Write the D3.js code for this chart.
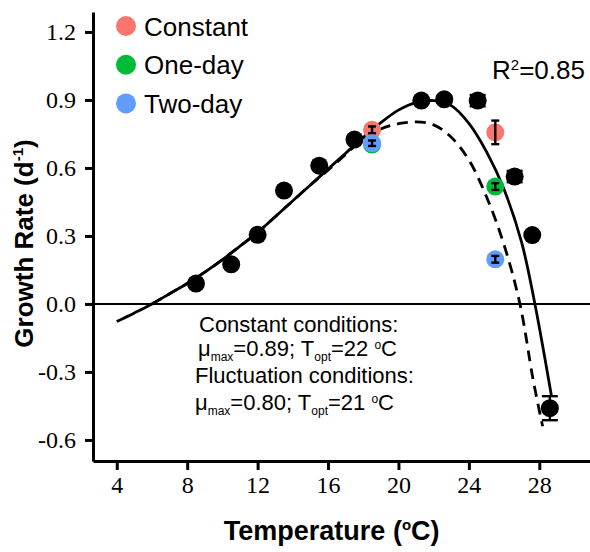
<!DOCTYPE html>
<html>
<head>
<meta charset="utf-8">
<script src="https://cdn.jsdelivr.net/npm/d3@7"></script>
<style>
  html, body { margin: 0; padding: 0; background: #fff; }
  svg { display: block; }
</style>
</head>
<body>
<svg id="chart" width="590" height="552"></svg>
<script>
// Observed growth rates at constant temperature (mean ± error)
const constTemps = [8.5, 10.5, 12, 13.5, 15.5, 17.5, 21.3, 22.6, 24.5, 26.6, 27.6, 28.6];
const constRates = [0.09, 0.175, 0.305, 0.50, 0.61, 0.725, 0.897, 0.903, 0.897, 0.562, 0.304, -0.46];
const constErrs  = [0, 0, 0, 0, 0, 0, 0.01, 0.015, 0.025, 0.025, 0, 0.053];

// Fluctuation experiments, mean temperatures
const fluctTemps = [18.5, 25.5];
const seriesNames = ["Constant", "One-day", "Two-day"];
const seriesColors = ["#F8766D", "#00BA38", "#619CFF"];
const constantRates = [0.768, 0.757];
const constantErrs  = [0.015, 0.052];
const oneDayRates   = [0.703, 0.518];
const oneDayErrs    = [0.012, 0.015];
const twoDayRates   = [0.709, 0.197];
const twoDayErrs    = [0.012, 0.015];

// Fitted thermal performance curves
const fitConstTemps = [4, 5, 6, 7, 8, 9, 10, 11, 12, 13, 14, 15, 16, 17, 18, 19, 20, 21, 22, 23, 24, 25, 26, 27, 27.75, 28.7];
const fitConstRates = [-0.078, -0.04, 0.0, 0.045, 0.09, 0.14, 0.195, 0.255, 0.315, 0.385, 0.455, 0.525, 0.595, 0.665, 0.735, 0.80, 0.855, 0.888, 0.897, 0.875, 0.797, 0.672, 0.505, 0.27, 0.0, -0.41];
const fitFluctTemps = [6, 7, 8, 9, 10, 11, 12, 13, 14, 15, 16, 17, 18, 19, 20, 21, 22, 23, 24, 25, 26, 26.9, 27.65, 28.19];
const fitFluctRates = [0.0, 0.045, 0.09, 0.14, 0.195, 0.255, 0.315, 0.385, 0.455, 0.525, 0.59, 0.66, 0.728, 0.772, 0.795, 0.803, 0.79, 0.735, 0.635, 0.473, 0.26, 0.0, -0.335, -0.54];

// Axis ticks
const xTicks = [4, 8, 12, 16, 20, 24, 28];
const yTicks = [1.2, 0.9, 0.6, 0.3, 0.0, -0.3, -0.6];
const yTickLabels = ["1.2", "0.9", "0.6", "0.3", "0.0", "-0.3", "-0.6"];

const svg = d3.select("#chart");
const plotLeft = 93, plotRight = 590, plotTop = 12, plotBottom = 461;

const x = d3.scaleLinear().domain([2.65, 30.88]).range([plotLeft, plotRight]);
const y = d3.scaleLinear().domain([-0.693, 1.288]).range([plotBottom, plotTop]);

const sans = "'Liberation Sans', Arial, Helvetica, sans-serif";
const serif = "'Liberation Serif', 'Times New Roman', serif";

// Axes
const xAxis = d3.axisBottom(x).tickValues(xTicks).tickSize(9).tickPadding(6).tickSizeOuter(0);
const yAxis = d3.axisLeft(y).tickValues(yTicks).tickSize(8).tickPadding(9).tickSizeOuter(0)
  .tickFormat((d, i) => yTickLabels[i]);

const gx = svg.append("g").attr("transform", `translate(0,${plotBottom})`).call(xAxis);
const gy = svg.append("g").attr("transform", `translate(${plotLeft},0)`).call(yAxis);
[gx, gy].forEach(g => {
  g.select(".domain").attr("stroke", "#000").attr("stroke-width", 3);
  g.selectAll(".tick line").attr("stroke", "#000").attr("stroke-width", 3);
  g.selectAll(".tick text").attr("fill", "#000").style("font-family", serif).style("font-size", "24px");
});
gx.selectAll(".tick text").attr("dy", "0.71em");

// Zero reference line
svg.append("line")
  .attr("x1", x(x.domain()[0])).attr("x2", x(x.domain()[1]))
  .attr("y1", y(0)).attr("y2", y(0))
  .attr("stroke", "#000").attr("stroke-width", 2);

// Fitted curves
const line = d3.line().x(d => x(d[0])).y(d => y(d[1])).curve(d3.curveCatmullRom.alpha(0.5));
svg.append("path")
  .datum(d3.zip(fitFluctTemps, fitFluctRates))
  .attr("d", line).attr("fill", "none")
  .attr("stroke", "#000").attr("stroke-width", 2.8).attr("stroke-dasharray", "11,7");
svg.append("path")
  .datum(d3.zip(fitConstTemps, fitConstRates))
  .attr("d", line).attr("fill", "none")
  .attr("stroke", "#000").attr("stroke-width", 2.8);

// Points with error bars
function drawSeries(temps, rates, errs, color, r, capW) {
  const g = svg.append("g");
  const data = d3.zip(temps, rates, errs);
  g.selectAll("circle").data(data).join("circle")
    .attr("cx", d => x(d[0])).attr("cy", d => y(d[1])).attr("r", r).attr("fill", color);
  const eb = g.selectAll("g.eb").data(data.filter(d => d[2] > 0)).join("g").attr("class", "eb")
    .attr("stroke", "#000").attr("stroke-width", 2.4);
  eb.append("line").attr("x1", d => x(d[0])).attr("x2", d => x(d[0]))
    .attr("y1", d => y(d[1] + d[2])).attr("y2", d => y(d[1] - d[2]));
  eb.append("line").attr("x1", d => x(d[0]) - capW / 2).attr("x2", d => x(d[0]) + capW / 2)
    .attr("y1", d => y(d[1] + d[2])).attr("y2", d => y(d[1] + d[2]));
  eb.append("line").attr("x1", d => x(d[0]) - capW / 2).attr("x2", d => x(d[0]) + capW / 2)
    .attr("y1", d => y(d[1] - d[2])).attr("y2", d => y(d[1] - d[2]));
}
drawSeries(constTemps, constRates, constErrs, "#000", 9, 16);
drawSeries(fluctTemps, constantRates, constantErrs, seriesColors[0], 9, 8);
drawSeries(fluctTemps, oneDayRates, oneDayErrs, seriesColors[1], 9, 8);
drawSeries(fluctTemps, twoDayRates, twoDayErrs, seriesColors[2], 9, 8);

// Legend
const legend = svg.append("g");
seriesNames.forEach((name, i) => {
  const cy = 26 + i * 38.7;
  legend.append("circle").attr("cx", 126).attr("cy", cy).attr("r", 10).attr("fill", seriesColors[i]);
  legend.append("text").attr("x", 144).attr("y", cy + 9.5)
    .style("font-family", sans).style("font-size", "26px").text(name);
});

// R squared
const r2 = svg.append("text").attr("x", 492).attr("y", 79)
  .style("font-family", sans).style("font-size", "26px");
r2.append("tspan").text("R");
r2.append("tspan").attr("dy", -9).style("font-size", "15px").text("2");
r2.append("tspan").attr("dy", 9).text("=0.85");

// Fit parameter annotation
function paramLine(xPos, yPos, mu, topt) {
  const t = svg.append("text").attr("x", xPos).attr("y", yPos)
    .style("font-family", sans).style("font-size", "22px");
  t.append("tspan").text("μ");
  t.append("tspan").attr("dy", 5).style("font-size", "12px").text("max");
  t.append("tspan").attr("dy", -5).text("=" + mu + "; T");
  t.append("tspan").attr("dy", 5).style("font-size", "12px").text("opt");
  t.append("tspan").attr("dy", -5).text("=" + topt + " ");
  t.append("tspan").attr("dy", -7).style("font-size", "12px").text("o");
  t.append("tspan").attr("dy", 7).text("C");
}
svg.append("text").attr("x", 199).attr("y", 332)
  .style("font-family", sans).style("font-size", "22px").text("Constant conditions:");
paramLine(198, 356, "0.89", "22");
svg.append("text").attr("x", 195).attr("y", 383)
  .style("font-family", sans).style("font-size", "22px").text("Fluctuation conditions:");
paramLine(195, 410, "0.80", "21");

// Axis titles
const xt = svg.append("text").attr("x", 331.7).attr("y", 540).attr("text-anchor", "middle")
  .style("font-family", sans).style("font-size", "27px").style("font-weight", "bold");
xt.append("tspan").text("Temperature (");
xt.append("tspan").attr("dy", -10).style("font-size", "15px").text("o");
xt.append("tspan").attr("dy", 10).text("C)");

const yt = svg.append("text").attr("transform", "translate(33,243.5) rotate(-90)").attr("text-anchor", "middle")
  .style("font-family", sans).style("font-size", "26px").style("font-weight", "bold");
yt.append("tspan").text("Growth Rate (d");
yt.append("tspan").attr("dy", -10).style("font-size", "15px").text("-1");
yt.append("tspan").attr("dy", 10).text(")");
</script>
</body>
</html>
